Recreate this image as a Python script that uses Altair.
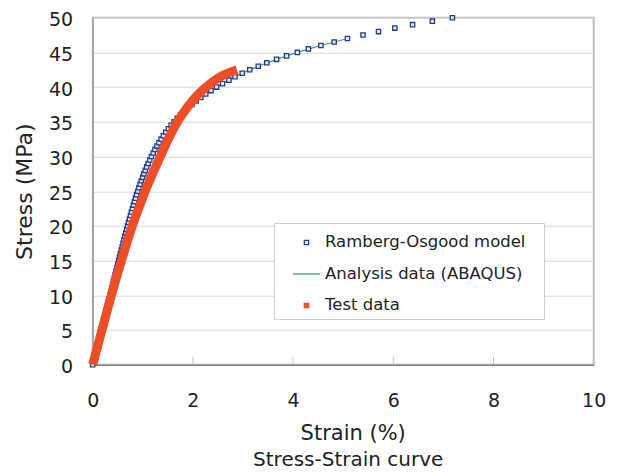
import altair as alt
import pandas as pd

# ---------------- data ----------------
series_names = ["Ramberg-Osgood model", "Analysis data (ABAQUS)", "Test data"]

ro_stress = [0.0, 0.5, 1.0, 1.5, 2.0, 2.5, 3.0, 3.5, 4.0, 4.5,
             5.0, 5.5, 6.0, 6.5, 7.0, 7.5, 8.0, 8.5, 9.0, 9.5,
             10.0, 10.5, 11.0, 11.5, 12.0, 12.5, 13.0, 13.5, 14.0, 14.5,
             15.0, 15.5, 16.0, 16.5, 17.0, 17.5, 18.0, 18.5, 19.0, 19.5,
             20.0, 20.5, 21.0, 21.5, 22.0, 22.5, 23.0, 23.5, 24.0, 24.5,
             25.0, 25.5, 26.0, 26.5, 27.0, 27.5, 28.0, 28.5, 29.0, 29.5,
             30.0, 30.5, 31.0, 31.5, 32.0, 32.5, 33.0, 33.5, 34.0, 34.5,
             35.0, 35.5, 36.0, 36.5, 37.0, 37.5, 38.0, 38.5, 39.0, 39.5,
             40.0, 40.5, 41.0, 41.5, 42.0, 42.5, 43.0, 43.5, 44.0, 44.5,
             45.0, 45.5, 46.0, 46.5, 47.0, 47.5, 48.0, 48.5, 49.0, 49.5,
             50.0]
ro_strain = [0.000, 0.017, 0.034, 0.052, 0.069, 0.086, 0.103, 0.121, 0.138, 0.155,
             0.172, 0.190, 0.207, 0.224, 0.241, 0.259, 0.276, 0.293, 0.310, 0.328,
             0.345, 0.362, 0.379, 0.397, 0.414, 0.431, 0.448, 0.466, 0.483, 0.500,
             0.518, 0.536, 0.553, 0.571, 0.589, 0.606, 0.624, 0.642, 0.660, 0.679,
             0.697, 0.716, 0.735, 0.754, 0.773, 0.793, 0.813, 0.834, 0.855, 0.877,
             0.899, 0.922, 0.946, 0.970, 0.996, 1.022, 1.049, 1.078, 1.108, 1.139,
             1.172, 1.207, 1.243, 1.282, 1.323, 1.366, 1.411, 1.460, 1.512, 1.566,
             1.625, 1.687, 1.753, 1.824, 1.899, 1.980, 2.066, 2.158, 2.256, 2.361,
             2.473, 2.592, 2.719, 2.840, 2.985, 3.135, 3.305, 3.475, 3.670, 3.870,
             4.085, 4.305, 4.555, 4.820, 5.085, 5.395, 5.705, 6.030, 6.385, 6.780,
             7.180]

abq_strain = [0.0, 0.172, 0.345, 0.518, 0.697, 0.899, 1.022, 1.172, 1.366, 1.625,
              1.980, 2.473, 2.719, 2.985, 3.305, 3.670, 4.085, 4.555, 5.085]
abq_stress = [0.0, 5.0, 10.0, 15.0, 20.0, 25.0, 27.5, 30.0, 32.5, 35.0,
              37.5, 40.0, 41.0, 42.0, 43.0, 44.0, 45.0, 46.0, 47.0]

test_strain = [0.0, 0.1, 0.2, 0.3, 0.4, 0.5, 0.6, 0.7, 0.8, 0.9,
               1.0, 1.1, 1.2, 1.3, 1.4, 1.5, 1.6, 1.7, 1.8, 1.9,
               2.0, 2.1, 2.2, 2.3, 2.4, 2.5, 2.6, 2.7, 2.8, 2.88]
test_stress = [0.0, 2.7, 5.4, 8.1, 10.7, 13.2, 15.6, 18.0, 20.2, 22.2,
               24.1, 25.9, 27.6, 29.2, 30.8, 32.4, 33.8, 35.1, 36.2, 37.2,
               38.1, 38.9, 39.6, 40.2, 40.8, 41.3, 41.7, 42.0, 42.3, 42.5]

x_ticks = [0, 2, 4, 6, 8, 10]
y_ticks = [0, 5, 10, 15, 20, 25, 30, 35, 40, 45, 50]
inner_ticks = [2, 4, 6, 8]
inner_tick_base = [0, 0, 0, 0]
inner_tick_top = [1.15, 1.15, 1.15, 1.15]

# ---------------- styling ----------------
FONT = "DejaVu Sans"
TXT = "#222222"
NAVY = "#253d8f"
GREEN = "#3f9f5f"
RED = "#ee4e25"
SQUARE = "M-0.16,-0.16H0.16V0.16H-0.16Z"
LINE = "M-1,0H1"

ro_df = pd.DataFrame({"strain": ro_strain, "stress": ro_stress, "series": series_names[0]})
abq_df = pd.DataFrame({"strain": abq_strain, "stress": abq_stress})
test_df = pd.DataFrame({"strain": test_strain, "stress": test_stress})
tick_df = pd.DataFrame({"strain": inner_ticks, "stress": inner_tick_base, "stress_top": inner_tick_top})

x_scale = alt.Scale(domain=[0, 10], nice=False)
y_scale = alt.Scale(domain=[0, 50], nice=False)

x_axis = alt.Axis(
    values=x_ticks, title="Strain (%)", grid=False, ticks=False,
    labelPadding=27, titlePadding=12, titleX=260, labelFlush=False,
    domainColor="#808080", domainWidth=1.5,
)
y_axis = alt.Axis(
    values=y_ticks, title="Stress (MPa)", grid=True, gridColor="#d9d9d9",
    gridWidth=1, ticks=False, labelPadding=20, titlePadding=12,
    labelOffset=2, labelFlush=False, titleFontSize=22,
    domainColor="#a0a0a0", domainWidth=1.5,
)
x_enc = alt.X("strain:Q", scale=x_scale, axis=x_axis)
y_enc = alt.Y("stress:Q", scale=y_scale, axis=y_axis)

leg = alt.Legend(
    title=" ", titleOrient="right", titlePadding=13, titleFontSize=16,
    orient="none", legendX=181.3, legendY=205.3,
    fillColor="white", strokeColor="#cfcfcf", padding=5,
    symbolSize=729, symbolStrokeWidth=1.3, symbolOffset=13,
    labelOffset=4, labelFont=FONT, labelFontSize=16.5, labelColor=TXT,
    rowPadding=8.5, labelLimit=400,
)

ticks = alt.Chart(tick_df).mark_rule(color="#c8c8c8", strokeWidth=1).encode(
    x=x_enc, y=y_enc, y2="stress_top:Q",
)

abq = alt.Chart(abq_df).mark_line(color=GREEN, strokeWidth=1.2).encode(x=x_enc, y=y_enc)

ro = alt.Chart(ro_df).mark_point(filled=True, size=729, strokeWidth=1.3, opacity=1).encode(
    x=x_enc,
    y=y_enc,
    shape=alt.Shape("series:N", scale=alt.Scale(domain=series_names, range=[SQUARE, LINE, SQUARE]), legend=leg),
    stroke=alt.Stroke("series:N", scale=alt.Scale(domain=series_names, range=[NAVY, GREEN, RED]), legend=leg),
    fill=alt.Fill("series:N", scale=alt.Scale(domain=series_names, range=["#e6ecf5", "#ffffff", RED]), legend=leg),
)

test = alt.Chart(test_df).mark_line(color=RED, strokeWidth=9, strokeCap="butt").encode(x=x_enc, y=y_enc)

chart = alt.layer(abq, ro, test, ticks).properties(
    width=501,
    height=347,
    padding={"left": 84.7, "top": 9.7, "right": 14, "bottom": 106},
    autosize=alt.AutoSizeParams(type="none"),
    title=alt.TitleParams(
        "Stress-Strain curve", orient="bottom", fontSize=20, fontWeight="normal",
        font=FONT, color=TXT, offset=6, dx=5,
    ),
).configure_view(
    stroke="#bcbcbc", strokeWidth=2
).configure_axis(
    labelFont=FONT, titleFont=FONT, labelFontSize=19, titleFontSize=21,
    titleFontWeight="normal", labelColor=TXT, titleColor=TXT,
)

chart.save("out.html", embed_options={"renderer": "svg", "actions": False})
